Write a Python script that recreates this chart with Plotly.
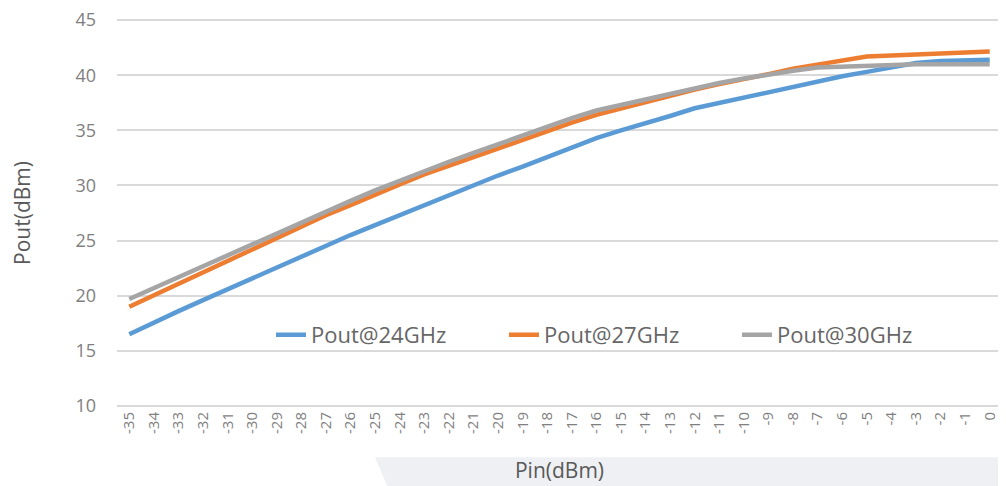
import plotly.graph_objects as go

pin = list(range(-35, 1))
pout_24 = [16.5, 17.6, 18.6, 19.6, 20.6, 21.6, 22.6, 23.6, 24.6, 25.5,
           26.4, 27.3, 28.2, 29.2, 30.1, 30.9, 31.7, 32.6, 33.5, 34.3,
           35.0, 35.6, 36.3, 37.0, 37.5, 38.0, 38.5, 38.9, 39.4, 39.9,
           40.3, 40.7, 41.1, 41.3, 41.4, 41.4]
pout_27 = [19.0, 20.05, 21.1, 22.15, 23.2, 24.25, 25.3, 26.3, 27.3, 28.2,
           29.2, 30.1, 31.0, 31.8, 32.6, 33.4, 34.2, 35.0, 35.7, 36.4,
           37.0, 37.6, 38.2, 38.7, 39.2, 39.6, 40.1, 40.6, 41.0, 41.4,
           41.7, 41.8, 41.9, 42.0, 42.0, 42.15]
pout_30 = [19.7, 20.7, 21.7, 22.65, 23.65, 24.65, 25.65, 26.65, 27.65, 28.6,
           29.55, 30.45, 31.35, 32.15, 32.95, 33.75, 34.55, 35.35, 36.1, 36.8,
           37.3, 37.9, 38.4, 38.9, 39.3, 39.7, 40.1, 40.4, 40.7, 40.8,
           40.9, 40.9, 41.0, 41.0, 41.0, 41.0]
series_names = ["Pout@24GHz", "Pout@27GHz", "Pout@30GHz"]
colors = ["#5B9BD5", "#ED7D31", "#A5A5A5"]
x_labels = [str(v) for v in pin]

fig = go.Figure()
for name, vals, col in zip(series_names, [pout_24, pout_27, pout_30], colors):
    fig.add_trace(go.Scatter(x=x_labels, y=vals, mode="lines", name=name,
                             line=dict(color=col, width=4.5)))

font_fam = "Open Sans, Noto Sans, sans-serif"
fig.update_layout(
    width=1006, height=486,
    margin=dict(l=109, r=12, t=11, b=87),
    paper_bgcolor="white", plot_bgcolor="white",
    font=dict(family=font_fam, color="#7f7f7f"),
    showlegend=True,
    legend=dict(orientation="h", x=0.174, y=0.186, xanchor="left", yanchor="middle",
                bgcolor="rgba(0,0,0,0)", font=dict(size=22, color="#666666"),
                entrywidth=188, entrywidthmode="pixels", tracegroupgap=0),
    xaxis=dict(type="category", range=[-0.5, 35.5], automargin=False,
               showgrid=False, zeroline=False, showline=False,
               tickangle=-90, tickfont=dict(size=15, color="#7f7f7f"),
               ticks="", ticklabelstandoff=1,
               title=dict(text="Pin(dBm)", font=dict(size=21, color="#595959"), standoff=30)),
    yaxis=dict(range=[9.9, 45.1], tickvals=[10, 15, 20, 25, 30, 35, 40, 45], automargin=False,
               ticklabeloverflow="allow",
               showgrid=True, gridcolor="#D9D9D9", gridwidth=1.5,
               zeroline=False, showline=False, ticks="",
               tickfont=dict(size=18, color="#7f7f7f"), ticklabelstandoff=20,
               title=dict(text="Pout(dBm)", font=dict(size=21, color="#595959"), standoff=51)),
    shapes=[dict(type="path", xref="paper", yref="paper",
                 path="M0.2915,-0.1295 L1.03,-0.1295 L1.03,-0.25 L0.314,-0.25 Z",
                 fillcolor="#EEF0F4", line=dict(width=0), layer="below")],
)

fig.write_html("out.html")
